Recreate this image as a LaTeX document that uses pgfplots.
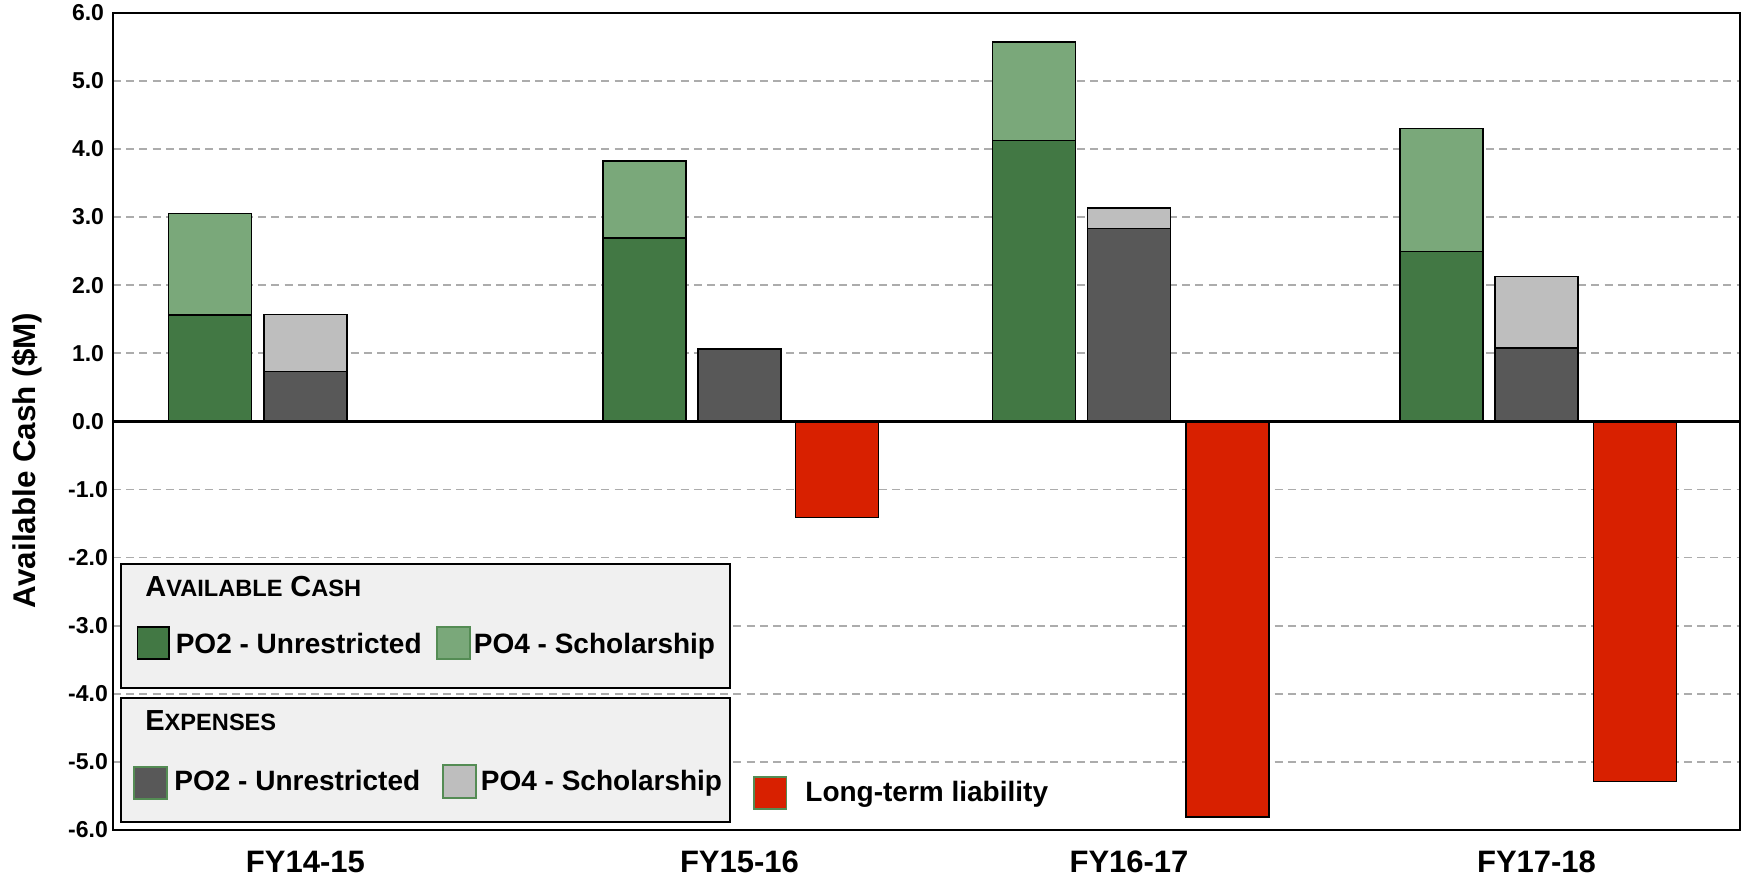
\documentclass[border=0pt]{standalone}
\usepackage{fontspec}
\setmainfont{Liberation Sans}
\usepackage{pgfplots}
\usepackage{pgfplotstable}
\pgfplotsset{compat=1.18}

\definecolor{cashA}{RGB}{66,120,68}
\definecolor{cashB}{RGB}{122,168,122}
\definecolor{expA}{RGB}{88,88,88}
\definecolor{expB}{RGB}{190,190,190}
\definecolor{liab}{RGB}{216,32,0}
\definecolor{legbg}{RGB}{240,240,240}
\definecolor{swedge}{RGB}{84,140,84}

% x = bar centre (px of the original layout), values in $M
\pgfplotstableread{
x       po2    po4
210.0   1.56   1.49
644.5   2.69   1.13
1034.0  4.12   1.45
1441.5  2.49   1.81
}\cashtab
\pgfplotstableread{
x       po2    po4
305.4   0.73   0.84
739.5   1.06   0.00
1129.0  2.83   0.30
1536.5  1.08   1.05
}\exptab
\pgfplotstableread{
x       val
837.0   -1.41
1227.5  -5.81
1635.0  -5.29
}\liabtab

\tikzset{
  legtxt/.style={anchor=base west, inner sep=0pt, font=\fontsize{14}{16}\selectfont\bfseries},
  legbox/.style={draw=black, line width=1pt, fill=legbg},
}
\newcommand{\bigc}[1]{{\fontsize{14.5}{16}\selectfont #1}}
\newcommand{\smc}[1]{{\fontsize{11.8}{14}\selectfont #1}}

\begin{document}
\begin{tikzpicture}
\begin{axis}[
  name=ax,
  scale only axis,
  width=813.5pt, height=408.65pt,
  xmin=113, xmax=1740,
  ymin=-6, ymax=6,
  axis line style={line width=1pt},
  ybar, bar shift=0pt, bar width=83,
  xtick={305.4,739.5,1129,1536.5},
  xticklabels={FY14-15,FY15-16,FY16-17,FY17-18},
  ytick={-6,-5,...,6},
  major tick length=0pt,
  ymajorgrids,
  grid style={line width=0.9pt, draw=gray!65, dash pattern=on 4pt off 2.6pt},
  /pgf/number format/assume math mode=true,
  yticklabel style={anchor=center, xshift=-12.5pt,
    font=\fontsize{11.5}{13}\selectfont\bfseries,
    /pgf/number format/fixed, /pgf/number format/fixed zerofill,
    /pgf/number format/precision=1},
  xticklabel style={anchor=center, yshift=-16pt,
    font=\fontsize{15.5}{18}\selectfont\bfseries},
  ylabel={Available Cash (\$M)},
  every axis y label/.style={at={(rel axis cs:0,0.5)},
    xshift=-43pt, yshift=-19.5pt, rotate=90, anchor=center,
    font=\fontsize{15.7}{18}\selectfont\bfseries},
  clip=false,
]
%% cash: full stack first, then the PO2 part over it
\addplot[fill=cashB, draw=black, line width=0.75pt]
  table[x=x, y expr=\thisrow{po2}+\thisrow{po4}] {\cashtab};
\addplot[fill=cashA, draw=black, line width=0.75pt]
  table[x=x, y=po2] {\cashtab};
%% expenses
\addplot[fill=expB, draw=black, line width=0.75pt]
  table[x=x, y expr=\thisrow{po2}+\thisrow{po4}] {\exptab};
\addplot[fill=expA, draw=black, line width=0.75pt]
  table[x=x, y=po2] {\exptab};
%% long-term liability
\addplot[fill=liab, draw=black, line width=0.75pt]
  table[x=x, y=val] {\liabtab};
%% zero line
\draw[line width=1.4pt] (axis cs:113,0) -- (axis cs:1740,0);
\end{axis}

%% legend, in px of the original layout
\begin{scope}[shift={(ax.south west)}, x=0.5pt, y=-0.5pt, shift={(-113,-830)}]
  \draw[legbox] (121,564) rectangle (730,688);
  \draw[legbox] (121,698) rectangle (730,822);
  \node[legtxt] at (145,596.7) {\bigc{A}\smc{VAILABLE} \bigc{C}\smc{ASH}};
  \node[legtxt] at (145,730.7) {\bigc{E}\smc{XPENSES}};
  % available cash
  \draw[fill=cashA, draw=black, line width=0.9pt] (137.5,627) rectangle (169,659);
  \node[legtxt] at (175.4,653) {PO2 - Unrestricted};
  \draw[fill=cashB, draw=swedge, line width=0.9pt] (437,627) rectangle (470,659);
  \node[legtxt] at (473.5,653) {PO4 - Scholarship};
  % expenses
  \draw[fill=expA, draw=swedge, line width=0.9pt] (134,767) rectangle (167,799);
  \node[legtxt] at (174,790.7) {PO2 - Unrestricted};
  \draw[fill=expB, draw=swedge, line width=0.9pt] (443,765) rectangle (476,798);
  \node[legtxt] at (480.5,790.7) {PO4 - Scholarship};
  % liability
  \draw[fill=liab, draw=swedge, line width=0.9pt] (754,777) rectangle (786.4,809.3);
  \node[legtxt] at (805,801.7) {Long-term liability};
  \pgfresetboundingbox
  \path[use as bounding box] (0,0) rectangle (1744,884);
\end{scope}
\end{tikzpicture}
\end{document}
